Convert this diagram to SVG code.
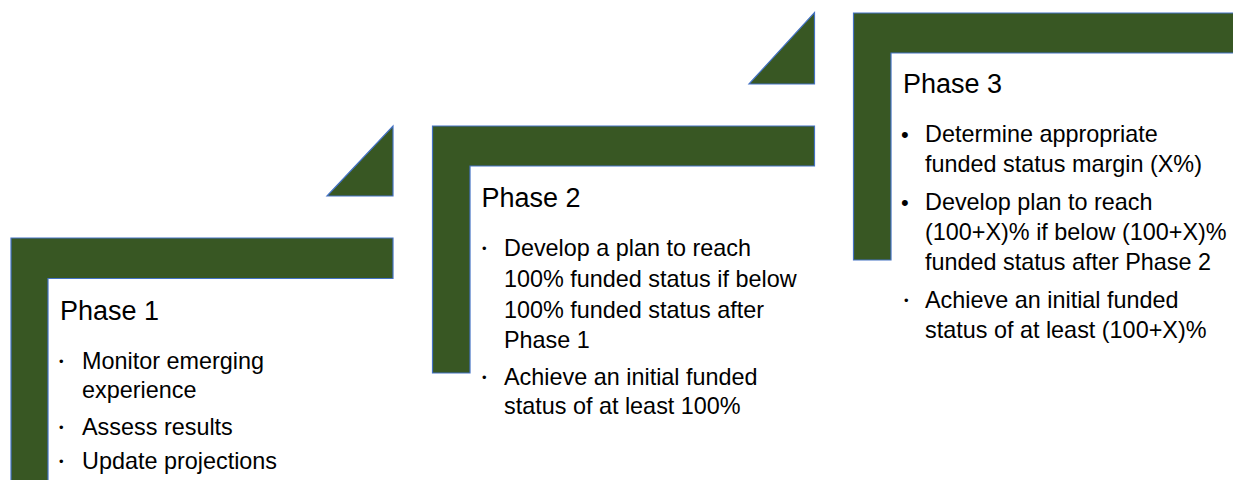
<svg xmlns="http://www.w3.org/2000/svg" width="1233" height="480" viewBox="0 0 1233 480">
  <style>
    .shape { fill: #385723; stroke: #4472C4; stroke-width: 1.2; }
    .head { font-family: "Liberation Sans", Arial, sans-serif; font-size: 27px; fill: #000; }
    .body { font-family: "Liberation Sans", Arial, sans-serif; font-size: 23.4px; fill: #000; }
    .sb { font-family: "Liberation Sans", Arial, sans-serif; font-size: 13px; fill: #000; }
    .bb { font-family: "Liberation Sans", Arial, sans-serif; font-size: 22px; fill: #000; }
  </style>
  <rect width="1233" height="480" fill="#ffffff"/>

  <g id="connectors">
    <path class="shape" d="M 393 126 L 393 196 L 327 196 Z"/>
    <path class="shape" d="M 814.5 12.5 L 814.5 84 L 749 84 Z"/>
  </g>

  <g id="phase1">
    <path class="shape" d="M 11 238 H 393 V 278.5 H 48 V 490 H 11 Z"/>
    <text class="head" x="60" y="320">Phase 1</text>
    <text class="sb" x="59" y="366">•</text>
    <text class="body" x="82" y="369">Monitor emerging</text>
    <text class="body" x="82" y="398">experience</text>
    <text class="sb" x="59" y="432">•</text>
    <text class="body" x="82" y="435">Assess results</text>
    <text class="sb" x="59" y="466">•</text>
    <text class="body" x="82" y="469">Update projections</text>
  </g>

  <g id="phase2">
    <path class="shape" d="M 432.5 126 H 814.5 V 166 H 470 V 373 H 432.5 Z"/>
    <text class="head" x="481.5" y="207">Phase 2</text>
    <text class="sb" x="482" y="253">•</text>
    <text class="body" x="504" y="256">Develop a plan to reach</text>
    <text class="body" x="504" y="287">100% funded status if below</text>
    <text class="body" x="504" y="318">100% funded status after</text>
    <text class="body" x="504" y="348">Phase 1</text>
    <text class="sb" x="482" y="382">•</text>
    <text class="body" x="504" y="385">Achieve an initial funded</text>
    <text class="body" x="504" y="414">status of at least 100%</text>
  </g>

  <g id="phase3">
    <path class="shape" d="M 853.5 13 H 1240 V 53 H 891 V 260 H 853.5 Z"/>
    <text class="head" x="903" y="93">Phase 3</text>
    <text class="bb" x="901" y="142">•</text>
    <text class="body" x="925" y="142">Determine appropriate</text>
    <text class="body" x="925" y="172">funded status margin (X%)</text>
    <text class="bb" x="901" y="210">•</text>
    <text class="body" x="925" y="210">Develop plan to reach</text>
    <text class="body" x="925" y="240">(100+X)% if below (100+X)%</text>
    <text class="body" x="925" y="270">funded status after Phase 2</text>
    <text class="sb" x="904" y="305">•</text>
    <text class="body" x="925" y="308">Achieve an initial funded</text>
    <text class="body" x="925" y="338">status of at least (100+X)%</text>
  </g>
</svg>
